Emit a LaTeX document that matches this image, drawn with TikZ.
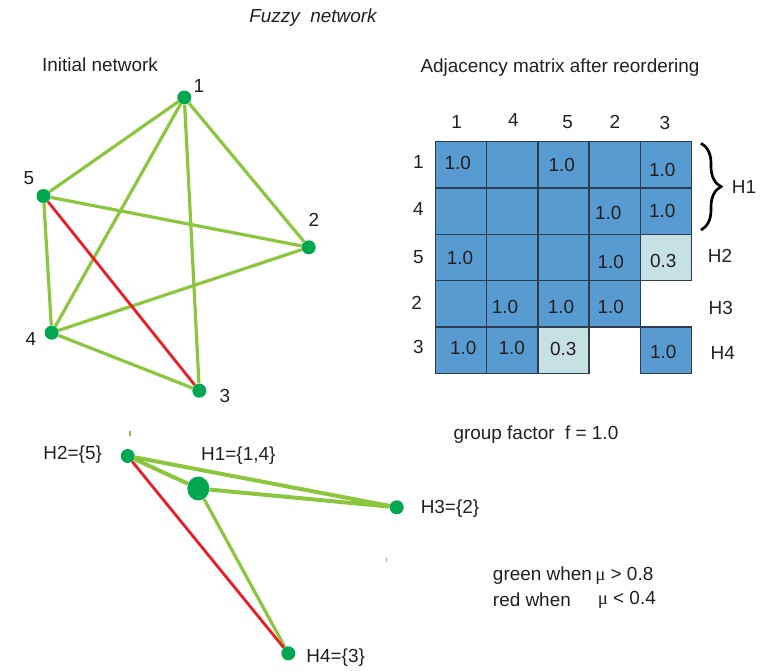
\documentclass[tikz,border=0pt]{standalone}
\usepackage{fontspec}
\setmainfont{Liberation Sans}
\newfontfamily\greekfont{Liberation Serif}
\usetikzlibrary{shapes.geometric,decorations.pathreplacing}

\definecolor{edgegreen}{RGB}{140,198,63}
\definecolor{dotgreen}{RGB}{0,166,80}
\definecolor{edgered}{RGB}{237,28,36}
\definecolor{cellblue}{RGB}{88,155,208}
\definecolor{celllight}{RGB}{198,225,228}
\definecolor{cellline}{RGB}{45,60,80}
\definecolor{ink}{RGB}{35,31,32}

\begin{document}
\begin{tikzpicture}[x=0.75pt,y=-0.75pt,
  every node/.style={text=ink, inner sep=0pt, font=\fontsize{14.2pt}{17pt}\selectfont},
  dot/.style={circle, fill=dotgreen, minimum size=10.5pt},
  bigdot/.style={ellipse, fill=dotgreen, minimum width=16.5pt, minimum height=18pt},
  strong/.style={draw=edgegreen, line width=2.4pt},
  strongthick/.style={draw=edgegreen, line width=3pt},
  weak/.style={draw=edgered, line width=2.1pt},
  cell/.style={draw=cellline, line width=0.9pt}
]
\useasboundingbox (0,0) rectangle (762,670);

% titles
\node (title) at (313,17.5) {\itshape Fuzzy\ \ network};
\node (initlabel) at (100,64.5) {Initial network};
\node (matlabel) at (560,68) {Adjacency matrix after reordering};

% ---------- initial network ----------
\node[dot] (n1) at (184.3,97.5) {};
\node[dot] (n5) at (43.5,196) {};
\node[dot] (n2) at (308.7,247.3) {};
\node[dot] (n4) at (51.7,332.7) {};
\node[dot] (n3) at (199.3,390.7) {};

\draw[strong] (n1) -- (n5);
\draw[strong] (n1) -- (n4);
\draw[strong] (n1) -- (n3);
\draw[strong] (n1) -- (n2);
\draw[strong] (n5) -- (n2);
\draw[strong] (n5) -- (n4);
\draw[strong] (n4) -- (n2);
\draw[strong] (n4) -- (n3);
\draw[weak] (n5) -- (n3);

\node (l1) at (199,86) {1};
\node (l5) at (29,178) {5};
\node (l2) at (314,220) {2};
\node (l4) at (31,339) {4};
\node (l3) at (225,396) {3};

% ---------- adjacency matrix ----------
\foreach \c/\r/\col in {
  0/0/cellblue,1/0/cellblue,2/0/cellblue,3/0/cellblue,4/0/cellblue,
  0/1/cellblue,1/1/cellblue,2/1/cellblue,3/1/cellblue,4/1/cellblue,
  0/2/cellblue,1/2/cellblue,2/2/cellblue,3/2/cellblue,4/2/celllight,
  0/3/cellblue,1/3/cellblue,2/3/cellblue,3/3/cellblue,
  0/4/cellblue,1/4/cellblue,2/4/celllight,4/4/cellblue}
  \path[cell, fill=\col] ({435.7+51.1*\c},{141.7+46.3*\r}) rectangle ({486.8+51.1*\c},{188+46.3*\r});

% column headers
\node (c1) at (456.7,121.7) {1};
\node (c4) at (513.3,120) {4};
\node (c5) at (567.7,121.7) {5};
\node (c2) at (615,121.7) {2};
\node (c3) at (665,123.3) {3};
% row headers
\node (r1) at (418.3,161.7) {1};
\node (r4) at (418.3,209.3) {4};
\node (r5) at (418.3,256.7) {5};
\node (r2) at (416.7,303.3) {2};
\node (r3) at (418.3,346.7) {3};

% entries
\node (v11) at (457.7,163.3) {1.0};
\node (v15) at (561.7,165) {1.0};
\node (v13) at (662.3,170) {1.0};
\node (v42) at (608.3,213.3) {1.0};
\node (v43) at (662.3,211) {1.0};
\node (v51) at (460,258.3) {1.0};
\node (v52) at (610.7,261.7) {1.0};
\node (v53) at (663.3,261) {0.3};
\node (v24) at (505,306.7) {1.0};
\node (v25) at (561,306.7) {1.0};
\node (v22) at (610.7,306.7) {1.0};
\node (v31) at (463.3,348.3) {1.0};
\node (v34) at (511.7,347.7) {1.0};
\node (v35) at (563.3,349.3) {0.3};
\node (v33) at (663.3,351.7) {1.0};

% group brace and group names
\coordinate (bracetop) at (701,143.3);
\coordinate (bracebot) at (701,230);
\draw[line width=2pt, decorate, decoration={brace, amplitude=15pt}] (bracetop) -- (bracebot);
\node (g1) at (744,186.7) {H1};
\node (g2) at (720,256) {H2};
\node (g3) at (720.7,308.3) {H3};
\node (g4) at (722.7,353.3) {H4};

\node[anchor=west] (gf) at (453.3,435) {group factor\ \ f = 1.0};

% ---------- reduced network ----------
\node[dot] (h2) at (127.7,456) {};
\node[bigdot] (h1) at (198.3,488.5) {};
\node[dot] (h3) at (396.7,507.3) {};
\node[dot] (h4) at (288.3,653.3) {};

\draw[strongthick] (h2) -- (h3);
\draw[strongthick] (h2) -- (h1);
\draw[strongthick] (h1) -- (h3);
\draw[strong] (h1) -- (h4);
\draw[weak] (h2) -- (h4);

\node (lh2) at (72.7,455) {H2=\{5\}};
\node (lh1) at (238.3,456) {H1=\{1,4\}};
\node (lh3) at (450,508.3) {H3=\{2\}};
\node (lh4) at (335.7,657.3) {H4=\{3\}};

% small stray marks
\draw[edgegreen, line width=0.8pt] (130,431) -- (130,435.5);
\draw[edgegreen, line width=0.8pt] (386.7,557.5) -- (386.7,562);

% legend
\node[anchor=west] (lg1) at (492.7,575.5) {green when};
\node[anchor=west] (lm1) at (595,575.5) {{\greekfont μ} > 0.8};
\node[anchor=west] (lg2) at (492.7,599.5) {red when};
\node[anchor=west] (lm2) at (597.5,599.5) {{\greekfont μ} < 0.4};
\end{tikzpicture}
\end{document}
